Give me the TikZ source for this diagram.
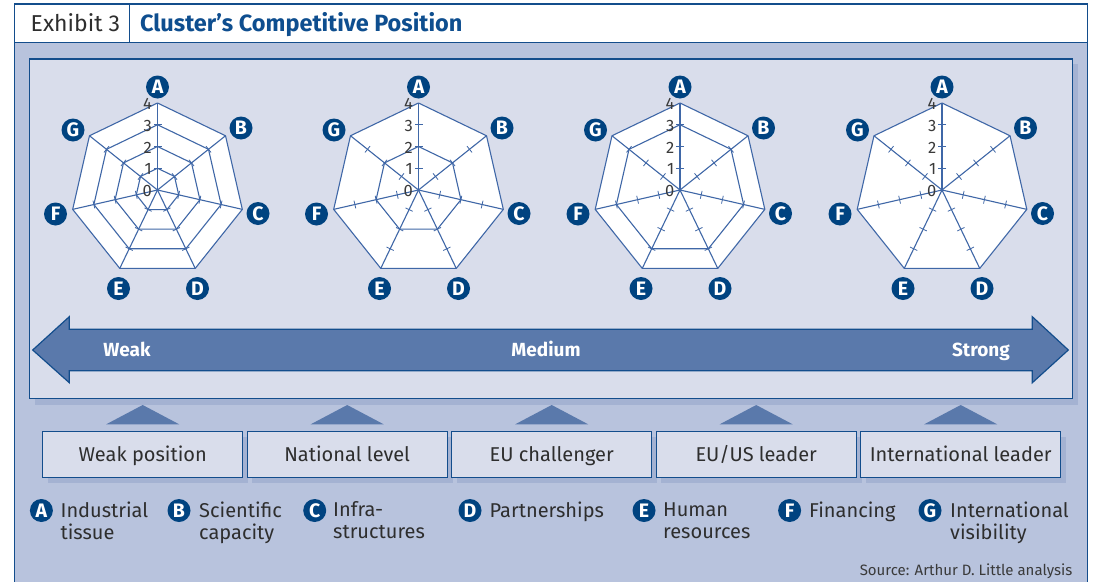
\documentclass[tikz,border=0pt]{standalone}
\usepackage{fontspec}
\setmainfont{Fira Sans}
\definecolor{darkblue}{HTML}{134D8C}
\definecolor{navy}{HTML}{004380}
\definecolor{titleblue}{HTML}{0E4E8F}
\definecolor{outerbg}{HTML}{B8C3DD}
\definecolor{panelbg}{HTML}{D9DDEB}
\definecolor{shadowc}{HTML}{A4B2D2}
\definecolor{arrowc}{HTML}{5A79AB}
\definecolor{webc}{HTML}{3F67A7}
\definecolor{textgray}{HTML}{2E2E2E}
\definecolor{numgray}{HTML}{3A3A3A}
\begin{document}
\begin{tikzpicture}[x=1pt,y=-1pt,
  web/.style={draw=webc, line width=1.1pt, line join=round},
  tick/.style={draw=webc, line width=0.8pt},
  numlbl/.style={font=\fontsize{16.5}{16.5}\selectfont, text=numgray, inner sep=0pt, anchor=east},
  circlbl/.style={circle, fill=navy, text=white, inner sep=0pt, minimum size=23pt, font=\fontsize{19.5}{19.5}\selectfont\bfseries},
  levelbox/.style={draw=darkblue, line width=1.2pt, fill=panelbg, minimum width=200pt, minimum height=45.6pt, inner sep=0pt, text height=19pt, text depth=4.6pt, text=textgray, font=\fontsize{20}{20}\selectfont},
  legtext/.style={anchor=north west, inner sep=0pt, align=left, text=textgray, font=\fontsize{20}{22.5}\selectfont},
  arrowtxt/.style={text=white, inner sep=0pt, anchor=base, font=\fontsize{19}{19}\selectfont\bfseries},
  ]
\useasboundingbox (0,0) rectangle (1097,581);
% frame and header
\fill[outerbg] (14.7,42.3) rectangle (1087.3,590);
\fill[white] (14.7,4) rectangle (1087.3,42.3);
\draw[darkblue, line width=1.3pt] (14.7,590) -- (14.7,4) -- (1087.3,4) -- (1087.3,590);
\draw[darkblue, line width=1.3pt] (14.7,42.3) -- (1087.3,42.3);
\draw[darkblue, line width=1.3pt] (129.3,4) -- (129.3,42.3);
\node[anchor=base west, inner sep=0pt, text=textgray, font=\fontsize{23}{23}\selectfont] (exh) at (30.5,31) {Exhibit 3};
\node[anchor=base west, inner sep=0pt, text=titleblue, font=\fontsize{23.5}{23.5}\selectfont\bfseries] (title) at (140,31) {Cluster’s Competitive Position};
% panel
\fill[shadowc] (34.5,64) rectangle (1077.7,404.5);
\draw[darkblue, line width=1.3pt, fill=panelbg] (29.3,59) rectangle (1072.3,398.3);
% radar charts
\foreach \cx/\rings [count=\i] in {157.5/{1,2,3,4}, 418.5/{2,4}, 680/{3,4}, 942/{4}} {
  \begin{scope}[shift={(\cx,190)}]
    \fill[white] (-90:87) foreach \k in {1,...,6} { -- ({-90+\k*360/7}:87) } -- cycle;
    \foreach \v in \rings {
      \draw[web] (-90:{\v*21.75}) foreach \k in {1,...,6} { -- ({-90+\k*360/7}:{\v*21.75}) } -- cycle;
    }
    \foreach \k in {0,...,6} {
      \draw[web] (0,0) -- ({-90+\k*360/7}:87);
      \foreach \v in {1,2,3}
        \draw[tick] ({-90+\k*360/7}:{\v*21.75}) ++({\k*360/7}:4) -- ++({180+\k*360/7}:8);
    }
    \foreach \v in {0,...,4}
      \node[numlbl] (n\i\v) at (-5.5,{-\v*21.75+1}) {\v};
    \node[circlbl] (A\i) at (0,-103) {A};
    \node[circlbl] (B\i) at (83.5,-62) {B};
    \node[circlbl] (C\i) at (100.5,23.5) {C};
    \node[circlbl] (D\i) at (40,98.5) {D};
    \node[circlbl] (E\i) at (-39,98.5) {E};
    \node[circlbl] (F\i) at (-102,24) {F};
    \node[circlbl] (G\i) at (-84.5,-60) {G};
  \end{scope}
}
% big double arrow
\draw[darkblue, line width=1.2pt, fill=arrowc, line join=miter]
  (32.7,350) -- (69.3,316.7) -- (69.3,329.3) -- (1032.3,329.3) -- (1032.3,316.7)
  -- (1068.3,350) -- (1032.3,382.7) -- (1032.3,370.7) -- (69.3,370.7) -- (69.3,382.7) -- cycle;
\node[arrowtxt] (weak) at (127,356) {Weak};
\node[arrowtxt] (medium) at (546,356) {Medium};
\node[arrowtxt] (strong) at (981,356) {Strong};
% level boxes with pointers
\foreach \bx/\txt [count=\j] in {142.7/{Weak position}, 347.2/{National level}, 551.7/{EU challenger}, 756.2/{EU/US leader}, 960.7/{International leader}} {
  \fill[arrowc] (\bx-36.5,424.3) -- (\bx,405) -- (\bx+36.5,424.3) -- cycle;
  \fill[shadowc] (\bx-95,437) rectangle (\bx+105.5,483);
  \node[levelbox] (box\j) at (\bx,454.5) {\txt};
}
% legend
\foreach \lx/\tx/\L/\txt in {41.4/60.4/A/{Industrial\\tissue}, 179/199/B/{Scientific\\capacity}, 314.7/333/C/{Infra-\\structures}, 470/489.5/D/{Partnerships}, 644/663/E/{Human\\resources}, 789.6/809/F/{Financing}, 930/950/G/{International\\visibility}} {
  \node[circlbl] (leg\L) at (\lx,510.5) {\L};
  \node[legtext] (legt\L) at (\tx,501.2) {\rule{0pt}{15pt}\txt};
}
\node[anchor=base east, inner sep=0pt, text=numgray, font=\fontsize{15}{15}\selectfont] (src) at (1072.5,575) {Source: Arthur D. Little analysis};
\end{tikzpicture}
\end{document}
